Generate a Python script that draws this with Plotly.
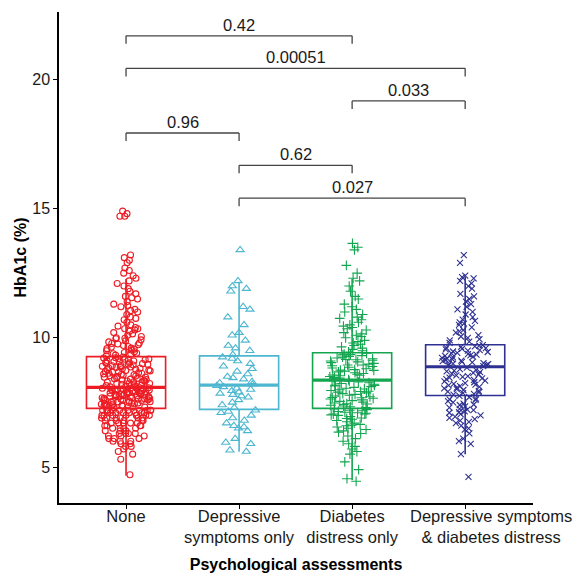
import plotly.graph_objects as go

categories = ["None", "Depressive<br>symptoms only", "Diabetes<br>distress only",
              "Depressive symptoms<br>& diabetes distress"]

none_vals = [
    4.7, 5.3, 5.6, 5.7, 5.8, 5.8, 5.9, 6.0, 6.0, 6.1, 6.1, 6.2, 6.2, 6.3, 6.3, 6.3, 6.4, 6.4, 6.5, 6.5,
    6.5, 6.6, 6.6, 6.6, 6.7, 6.7, 6.7, 6.8, 6.8, 6.8, 6.8, 6.9, 6.9, 6.9, 6.9, 7.0, 7.0, 7.0, 7.0, 7.0,
    7.1, 7.1, 7.1, 7.1, 7.1, 7.2, 7.2, 7.2, 7.2, 7.2, 7.2, 6.0, 6.4, 6.7, 6.9, 7.0, 7.1, 7.2, 5.9, 6.2,
    6.5, 6.8, 7.1, 7.2, 6.6, 6.9, 7.0, 7.1, 5.5, 6.1, 6.3, 6.7, 7.0, 7.2, 7.2,
    7.30, 7.32, 7.35, 7.38, 7.40, 7.41, 7.43, 7.45, 7.47, 7.48, 7.50, 7.51, 7.53, 7.55, 7.56, 7.58,
    7.60, 7.61, 7.62, 7.64, 7.65, 7.67, 7.68, 7.70, 7.71, 7.72, 7.74, 7.75, 7.77, 7.78, 7.80, 7.81,
    7.82, 7.84, 7.85, 7.87, 7.88, 7.90, 7.91, 7.92, 7.94, 7.95, 7.97, 7.98, 8.00, 8.01, 8.02, 8.04,
    8.05, 8.07, 7.33, 7.44, 7.52, 7.63, 7.73, 7.83, 7.93, 8.03, 7.36, 7.46, 7.57, 7.66, 7.76, 7.86,
    7.96, 8.06, 7.39, 7.59, 7.79, 7.99,
    8.10, 8.12, 8.15, 8.18, 8.20, 8.22, 8.25, 8.28, 8.30, 8.32, 8.35, 8.38, 8.40, 8.42, 8.45, 8.48,
    8.50, 8.52, 8.55, 8.58, 8.60, 8.62, 8.65, 8.68, 8.70, 8.72, 8.75, 8.78, 8.80, 8.82, 8.85, 8.88,
    8.90, 8.92, 8.95, 8.98, 9.00, 9.02, 9.05, 9.08, 9.10, 9.12, 9.15, 9.18, 9.20, 9.22, 9.25, 8.13,
    8.23, 8.33, 8.43, 8.53, 8.63, 8.73, 8.83, 8.93, 9.03, 9.13, 9.23, 8.17, 8.37, 8.57, 8.77, 8.97,
    9.17, 8.27, 8.47, 8.67, 8.87, 9.07,
    9.30, 9.33, 9.36, 9.40, 9.43, 9.46, 9.50, 9.53, 9.56, 9.60, 9.63, 9.66, 9.70, 9.73, 9.76, 9.80,
    9.84, 9.88, 9.92, 9.96, 10.0, 10.05, 10.1, 10.15, 10.2, 10.25, 10.3, 10.35, 10.4, 10.45, 10.5,
    10.6, 10.7, 10.75, 10.8, 10.9, 11.0, 11.05, 11.1, 11.2, 11.25, 11.3, 11.4, 11.5, 11.55, 11.6,
    11.7, 11.8, 11.9, 12.0, 12.1, 12.2, 12.3, 12.4, 12.5, 12.6, 12.7, 12.9, 13.0, 13.1, 13.2, 14.7,
    14.7, 14.8, 14.9, 9.38, 9.58, 9.78, 9.98, 10.35,
]

dep_vals = [
    5.6, 5.65, 5.9, 5.95, 6.1, 6.4, 6.5, 6.55, 6.6, 6.7, 6.8, 6.9, 7.0, 7.1, 7.15, 7.2,
    7.3, 7.4, 7.5, 7.6, 7.7, 7.75, 7.8, 7.85, 7.9, 7.95, 8.0, 8.05, 8.1, 8.15,
    8.2, 8.25, 8.3, 8.4, 8.45, 8.5, 8.6, 8.7, 8.8, 8.9, 9.0, 9.1, 9.2, 9.25,
    9.35, 9.5, 9.6, 9.7, 9.9, 10.1, 10.2, 10.5, 10.8, 11.1, 11.2, 11.8, 11.9, 12.0, 12.2, 13.4,
]

diab_vals = [
    4.45, 4.55, 4.9, 5.2, 5.5, 5.6, 5.7, 5.8, 5.9, 6.0, 6.1, 6.2, 6.3, 6.35, 6.4, 6.5, 6.55, 6.6,
    6.65, 6.7, 6.75, 6.8, 6.85, 6.9, 6.95, 7.0, 7.02, 7.05, 7.08, 7.1, 7.12, 7.15, 7.18, 7.2, 7.22,
    7.25, 6.45, 6.62, 6.88, 7.05,
    7.30, 7.33, 7.36, 7.39, 7.42, 7.45, 7.48, 7.51, 7.54, 7.57, 7.60, 7.63, 7.66, 7.69, 7.72, 7.75,
    7.78, 7.81, 7.84, 7.87, 7.90, 7.93, 7.96, 7.99, 8.02, 8.05, 8.08, 8.11, 8.14, 8.17, 8.20, 8.23,
    8.26, 8.29, 8.32, 8.35, 7.44, 7.68, 7.92, 8.16,
    8.38, 8.41, 8.44, 8.47, 8.50, 8.53, 8.56, 8.59, 8.62, 8.65, 8.68, 8.71, 8.74, 8.77, 8.80, 8.83,
    8.86, 8.89, 8.92, 8.95, 8.98, 9.01, 9.04, 9.07, 9.10, 9.13, 9.16, 9.19, 9.22, 9.25, 9.28, 9.31,
    9.34, 9.37, 9.40, 8.55, 8.75, 8.95, 9.15, 9.35,
    9.45, 9.5, 9.55, 9.6, 9.7, 9.75, 9.8, 9.9, 10.0, 10.05, 10.1, 10.2, 10.3, 10.35, 10.4, 10.5,
    10.6, 10.7, 10.8, 10.9, 11.0, 11.1, 11.2, 11.3, 11.5, 11.6, 11.8, 12.0, 12.2, 12.3, 12.5, 12.8,
    13.4, 13.5, 13.65, 9.65, 9.85, 10.15, 10.45, 10.75,
]

both_vals = [
    4.62, 5.5, 5.9, 6.0, 6.1, 6.3, 6.5, 6.6, 6.7, 6.75, 6.8, 6.85, 6.9, 7.0, 7.05, 7.1, 7.15, 7.2,
    7.25, 7.3, 7.35, 7.4, 7.45, 7.5, 7.55, 7.6, 7.65, 7.7, 7.75, 6.95, 7.22, 7.42, 7.62, 6.45, 7.12,
    7.80, 7.83, 7.86, 7.89, 7.92, 7.95, 7.98, 8.01, 8.04, 8.07, 8.10, 8.13, 8.16, 8.19, 8.22, 8.25,
    8.28, 8.31, 8.34, 8.37, 8.40, 8.43, 8.46, 8.49, 8.52, 8.55, 8.58, 8.61, 8.64, 8.67, 8.70, 8.73,
    8.76, 8.79, 8.85,
    8.90, 8.92, 8.95, 8.97, 9.00, 9.02, 9.05, 9.07, 9.10, 9.12, 9.15, 9.17, 9.20, 9.22, 9.25, 9.27,
    9.30, 9.32, 9.35, 9.37, 9.40, 9.42, 9.45, 9.47, 9.50, 9.52, 9.55, 9.57, 9.60, 9.62, 9.65, 9.67,
    9.70, 9.72, 8.98,
    9.8, 9.85, 9.9, 9.95, 10.0, 10.05, 10.1, 10.2, 10.3, 10.4, 10.5, 10.55, 10.6, 10.7, 10.8, 10.9,
    11.0, 11.1, 11.2, 11.4, 11.5, 11.6, 11.7, 11.9, 12.0, 12.1, 12.2, 12.3, 12.35, 12.4, 12.9, 13.2,
    10.25, 10.65, 11.3,
]

# box statistics
q1_vals = [7.27, 7.23, 7.27, 7.77]
median_vals = [8.08, 8.17, 8.36, 8.88]
q3_vals = [9.27, 9.30, 9.42, 9.73]
lower_whisker = [4.66, 5.59, 4.50, 5.50]
upper_whisker = [12.27, 12.17, 12.27, 12.36]

# significance brackets: (group a, group b, height, label)
bracket_a = [0, 0, 2, 0, 1, 1]
bracket_b = [2, 3, 3, 1, 2, 3]
bracket_h = [21.68, 20.42, 19.16, 17.92, 16.67, 15.40]
bracket_labels = ["0.42", "0.00051", "0.033", "0.96", "0.62", "0.027"]

colors = ["#ED1C24", "#4DB6D0", "#13A54F", "#2E3192"]
symbols = ["circle-open", "triangle-up-open", "cross-thin", "x-thin"]
sizes = [6, 7, 7, 6]
groups = [none_vals, dep_vals, diab_vals, both_vals]

FONT = "Liberation Sans, Arial, sans-serif"
TXT = "#1a1a1a"
fig = go.Figure()

for i, vals in enumerate(groups):
    fig.add_trace(go.Box(
        x=[categories[i]] * len(vals), y=vals,
        boxpoints="all", jitter=1, pointpos=0, width=0.44,
        line=dict(width=0, color="rgba(0,0,0,0)"), fillcolor="rgba(0,0,0,0)",
        whiskerwidth=0,
        marker=dict(symbol=symbols[i], color=colors[i], size=sizes[i],
                    line=dict(width=1.1, color=colors[i])),
        showlegend=False,
    ))

for i in range(4):
    fig.add_trace(go.Box(
        x=[categories[i]], q1=[q1_vals[i]], median=[median_vals[i]], q3=[q3_vals[i]],
        lowerfence=[lower_whisker[i]], upperfence=[upper_whisker[i]],
        width=0.70, whiskerwidth=0, boxpoints=False,
        line=dict(color=colors[i], width=1.6), fillcolor="rgba(0,0,0,0)",
        showlegend=False,
    ))
    fig.add_shape(type="line", xref="x", yref="y", x0=i - 0.35, x1=i + 0.35,
                  y0=median_vals[i], y1=median_vals[i],
                  line=dict(color=colors[i], width=3.2), layer="above")

tip = 0.31
for a, b, h, lab in zip(bracket_a, bracket_b, bracket_h, bracket_labels):
    lc = dict(color="#444444", width=1.3)
    fig.add_shape(type="line", xref="x", yref="y", x0=a, x1=b, y0=h, y1=h, line=lc)
    fig.add_shape(type="line", xref="x", yref="y", x0=a, x1=a, y0=h - tip, y1=h, line=lc)
    fig.add_shape(type="line", xref="x", yref="y", x0=b, x1=b, y0=h - tip, y1=h, line=lc)
    fig.add_annotation(x=(a + b) / 2, y=h, text=lab, showarrow=False, yanchor="bottom",
                       yshift=0, font=dict(family=FONT, size=16.5, color=TXT))

# tick labels: the last one sits a little right of its tick in the reference
tick_text = categories[:3] + [""]
fig.add_annotation(x=3, y=0, xref="x", yref="paper", text=categories[3], showarrow=False,
                   xanchor="center", yanchor="middle", xshift=26, yshift=-23.5,
                   font=dict(family=FONT, size=16.5, color=TXT))

fig.update_layout(
    width=576, height=573,
    margin=dict(l=59, r=43, t=12, b=70),
    paper_bgcolor="white", plot_bgcolor="white",
    boxmode="overlay", showlegend=False,
    font=dict(family=FONT, size=16, color=TXT),
)
fig.update_xaxes(
    type="category", categoryorder="array", categoryarray=categories,
    tickvals=categories, ticktext=tick_text,
    range=[-0.593, 3.60], showline=True, linecolor="black", linewidth=1.5,
    ticks="outside", ticklen=4, tickcolor="black", showgrid=False, zeroline=False,
    tickangle=0, automargin=False, ticklabelstandoff=-7,
    tickfont=dict(family=FONT, size=16.5, color=TXT),
    title=dict(text="<b>Psychological assessments</b>", standoff=15,
               font=dict(family=FONT, size=16, color="black")),
)
fig.update_yaxes(
    range=[3.61, 22.6], tickvals=[5, 10, 15, 20], showline=True, linecolor="black",
    linewidth=1.5, ticks="outside", ticklen=4, tickcolor="black", showgrid=False,
    zeroline=False, automargin=False,
    tickfont=dict(family=FONT, size=16, color=TXT),
    title=dict(text="<b>HbA1c (%)</b>", standoff=2,
               font=dict(family=FONT, size=16, color="black")),
)

fig.write_html("out.html", config={"displayModeBar": False},
               post_script="document.body.style.margin='0';document.body.style.overflow='hidden';")
